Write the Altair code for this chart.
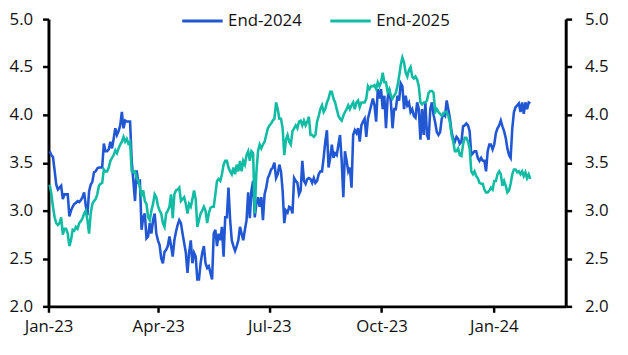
import altair as alt
import pandas as pd

# --- data ---------------------------------------------------------------
series_names = ["End-2024", "End-2025"]
x_tick_dates = ["2023-01-01", "2023-04-01", "2023-07-01", "2023-10-01", "2024-01-01"]
y_ticks = [2.0, 2.5, 3.0, 3.5, 4.0, 4.5, 5.0]
first_date = "2023-01-02"
last_date = "2024-01-31"

end_2024 = [
    3.62, 3.58, 3.56, 3.42, 3.27, 3.22, 3.24, 3.26, 3.12, 3.17,
    3.17, 3.17, 2.94, 3.00, 3.04, 3.07, 3.08, 3.10, 3.09, 3.11,
    3.14, 3.19, 3.05, 2.95, 3.20, 3.27, 3.30, 3.40, 3.41, 3.44,
    3.45, 3.45, 3.45, 3.70, 3.62, 3.62, 3.64, 3.72, 3.65, 3.75,
    3.86, 3.79, 3.83, 3.89, 4.03, 3.86, 3.94, 3.93, 3.93, 3.93,
    3.52, 3.31, 3.10, 3.42, 3.30, 3.31, 2.80, 2.93, 2.97, 2.71,
    2.73, 2.87, 2.76, 2.90, 2.97, 2.76, 2.69, 2.64, 2.50, 2.45,
    2.57, 2.59, 2.63, 2.73, 2.63, 2.52, 2.69, 2.78, 2.85, 2.90,
    2.87, 2.76, 2.66, 2.56, 2.35, 2.56, 2.69, 2.45, 2.56, 2.52,
    2.28, 2.28, 2.45, 2.56, 2.63, 2.45, 2.40,
    2.42, 2.35, 2.28, 2.76, 2.80, 2.63, 2.76, 2.69, 2.83, 2.52,
    2.93, 2.93, 3.24, 2.90, 2.69, 2.63, 2.58, 2.63, 2.69, 2.83,
    2.76, 2.69, 2.80, 2.90, 3.19, 2.92, 3.21, 3.31, 2.93, 3.07,
    3.14, 3.04, 3.14, 2.90, 3.17, 3.24, 3.34, 3.38, 3.43, 3.45,
    3.50, 3.34, 3.38, 3.48, 3.41, 3.21, 2.87, 3.00, 2.98, 3.04,
    3.03, 2.97, 3.34, 3.31, 3.29, 3.17, 3.21, 3.52, 3.31, 3.28,
    3.33, 3.34, 3.33, 3.29, 3.34, 3.29, 3.31, 3.38, 3.41, 3.41,
    3.55, 3.72, 3.84, 3.45, 3.55, 3.69, 3.55, 3.60, 3.58, 3.69,
    3.79, 3.52, 3.14, 3.62, 3.52, 3.41, 3.45, 3.24, 3.79, 3.84,
    3.81, 3.86, 3.72, 3.89, 3.93, 3.96, 3.77, 3.96, 4.03, 4.10,
    4.17, 4.10, 3.93, 4.27, 4.17, 4.27, 4.06, 4.20, 3.86, 4.17,
    4.27, 4.13, 3.86, 4.06,
    4.06, 4.20, 4.15, 4.33, 4.30, 4.06, 4.20, 4.10, 4.13, 4.03,
    4.06, 3.99, 3.97, 4.13, 4.06, 3.74, 4.06, 3.79, 4.13, 3.79,
    3.74, 4.06, 4.13, 4.00, 3.92, 3.82, 3.79, 3.82, 3.96, 4.01,
    3.99, 4.15, 4.06, 3.96, 3.82, 3.75, 3.72, 3.77, 3.75, 3.70,
    3.72,
    3.88, 3.89, 3.91, 3.89, 3.83, 3.58, 3.60, 3.62, 3.62, 3.55,
    3.52, 3.55, 3.52, 3.52, 3.41, 3.62, 3.69, 3.69, 3.64, 3.69,
    3.81, 3.86, 3.89, 3.94, 3.88, 3.83, 3.76, 3.65, 3.58, 3.55,
    3.86, 4.03, 4.08, 4.10, 4.12, 4.03, 4.13, 4.01, 4.13, 4.06,
    4.13, 4.12,
]

end_2025 = [
    3.27, 3.18, 3.04, 2.93, 2.87, 2.85, 2.87, 2.93, 2.75, 2.81,
    2.81, 2.76, 2.63, 2.69, 2.80, 2.79, 2.83, 2.81, 2.87, 2.89,
    2.92, 2.97, 3.00, 2.90, 2.76, 2.97, 3.07, 3.10, 3.12, 3.17,
    3.26, 3.28, 3.29, 3.43, 3.41, 3.41, 3.45, 3.52, 3.55, 3.58,
    3.63, 3.60, 3.65, 3.69, 3.72, 3.77, 3.72, 3.75, 3.70, 3.72,
    3.41, 3.40, 3.41, 3.34, 3.31, 3.24, 3.16, 3.21, 3.10, 3.07,
    2.93, 2.90, 3.00, 3.07, 3.17, 3.14, 3.05, 3.00, 2.97, 2.87,
    2.83, 2.97, 3.00, 3.04, 3.17, 2.92, 3.17, 3.21, 3.22, 3.24,
    3.10, 3.12, 3.14, 3.07, 2.97, 3.07, 3.04, 3.12, 3.21, 3.12,
    2.83, 2.90, 2.97, 3.00, 3.04, 3.00, 2.87,
    2.97, 3.03, 3.04, 3.04, 3.17, 3.31, 3.33, 3.31, 3.38, 3.48,
    3.52, 3.52, 3.45, 3.41, 3.38, 3.45, 3.38, 3.48, 3.41, 3.52,
    3.41, 3.52, 3.48, 3.58, 3.62, 3.52, 3.62, 3.60, 2.97, 3.40,
    3.62, 3.69, 3.65, 3.69, 3.72, 3.79, 3.86, 3.89, 3.91, 3.94,
    3.96, 4.13, 4.06, 3.96, 3.96, 3.86, 3.58, 3.74, 3.79, 3.72,
    3.69, 3.83, 3.86, 3.89, 3.86, 3.93, 3.94, 3.89, 3.94, 3.89,
    3.93, 3.98, 3.79, 3.79, 3.77, 3.79, 3.93, 3.99, 4.06, 4.10,
    4.03, 4.06, 4.13, 4.17, 4.24, 4.24, 4.17, 4.13, 4.06, 3.99,
    3.96, 3.94, 3.99, 4.03, 4.06, 4.10, 4.06, 4.10, 4.13, 4.06,
    4.13, 4.15, 4.08, 4.13, 4.13, 4.13, 4.17, 4.30, 4.27, 4.30,
    4.30, 4.31, 4.27, 4.34, 4.30, 4.34, 4.44, 4.34, 4.34, 4.24,
    4.27, 4.20, 4.17, 4.20,
    4.23, 4.30, 4.40, 4.52, 4.60, 4.55, 4.44, 4.40, 4.47, 4.50,
    4.40, 4.38, 4.40, 4.37, 4.30, 4.13, 4.11, 4.13, 4.13, 4.15,
    4.23, 4.25, 4.25, 4.23, 4.03, 4.06, 4.03, 4.01, 3.99, 4.01,
    4.03, 4.03, 3.99, 3.92, 3.79, 3.72, 3.62, 3.62, 3.65, 3.58,
    3.57,
    3.69, 3.76, 3.76, 3.72, 3.65, 3.41, 3.38, 3.41, 3.36, 3.34,
    3.29, 3.28, 3.28, 3.22, 3.19, 3.19, 3.21, 3.24, 3.22, 3.31,
    3.31, 3.38, 3.41, 3.38, 3.26, 3.31, 3.26, 3.19, 3.21, 3.28,
    3.38, 3.43, 3.43, 3.40, 3.41, 3.38, 3.41, 3.36, 3.40, 3.34,
    3.38, 3.33,
]

colors = ["#2157D3", "#12BCA4"]

# --- table ----------------------------------------------------------------
rows = []
for name, vals in zip(series_names, [end_2024, end_2025]):
    dts = pd.date_range(first_date, last_date, periods=len(vals))
    for d, v in zip(dts, vals):
        rows.append({"date": d.strftime("%Y-%m-%dT%H:%M:%SZ"), "value": v, "series": name})
df = pd.DataFrame(rows)


def dt(s):
    t = pd.Timestamp(s)
    return alt.DateTime(year=t.year, month=t.month, date=t.day, utc=True)


FONT = "Open Sans"
FS = 17

x_enc = alt.X(
    "date:T",
    scale=alt.Scale(type="utc", domain=[dt("2023-01-01"), dt("2024-02-29")]),
    axis=alt.Axis(
        values=[dt(s) for s in x_tick_dates],
        labelExpr="utcFormat(datum.value, '%b-%y')",
        title=None,
        labelFlush=False,
        labelPadding=6,
        tickSize=6,
        labelOverlap=False,
    ),
)

y_scale = alt.Scale(domain=[2, 5], nice=False, zero=False)

lines = alt.Chart(df).mark_line(strokeWidth=2.6).encode(
    x=x_enc,
    y=alt.Y(
        "value:Q",
        scale=y_scale,
        axis=alt.Axis(values=y_ticks, format=".1f", orient="left", title=None,
                      tickSize=6, labelPadding=10),
    ),
    color=alt.Color(
        "series:N",
        scale=alt.Scale(domain=series_names, range=colors),
        legend=alt.Legend(
            orient="none",
            legendX=134,
            legendY=-20,
            direction="horizontal",
            title=None,
            symbolType="stroke",
            symbolSize=1681,
            symbolStrokeWidth=3,
            labelFont=FONT,
            labelFontSize=FS,
            labelColor="#111111",
            labelOffset=4,
            columnPadding=22,
            padding=0,
        ),
    ),
)

right_axis = alt.Chart(df).mark_line(opacity=0).encode(
    x=x_enc,
    y=alt.Y(
        "value:Q",
        scale=y_scale,
        axis=alt.Axis(values=y_ticks, format=".1f", orient="right", title=None,
                      tickSize=6, labelPadding=13),
    ),
)

chart = (
    alt.layer(lines, right_axis)
    .resolve_scale(y="independent")
    .properties(
        width=524,
        height=291,
        autosize=alt.AutoSizeParams(type="none"),
        padding={"left": 41, "top": 9, "right": 55, "bottom": 47},
    )
    .configure_view(stroke=None)
    .configure_axis(
        grid=False,
        domainColor="#000000",
        domainWidth=3,
        tickColor="#000000",
        tickWidth=2.5,
        labelFont=FONT,
        labelFontSize=FS,
        labelColor="#111111",
    )
)

chart.save("out.html", embed_options={"renderer": "svg", "actions": False})
